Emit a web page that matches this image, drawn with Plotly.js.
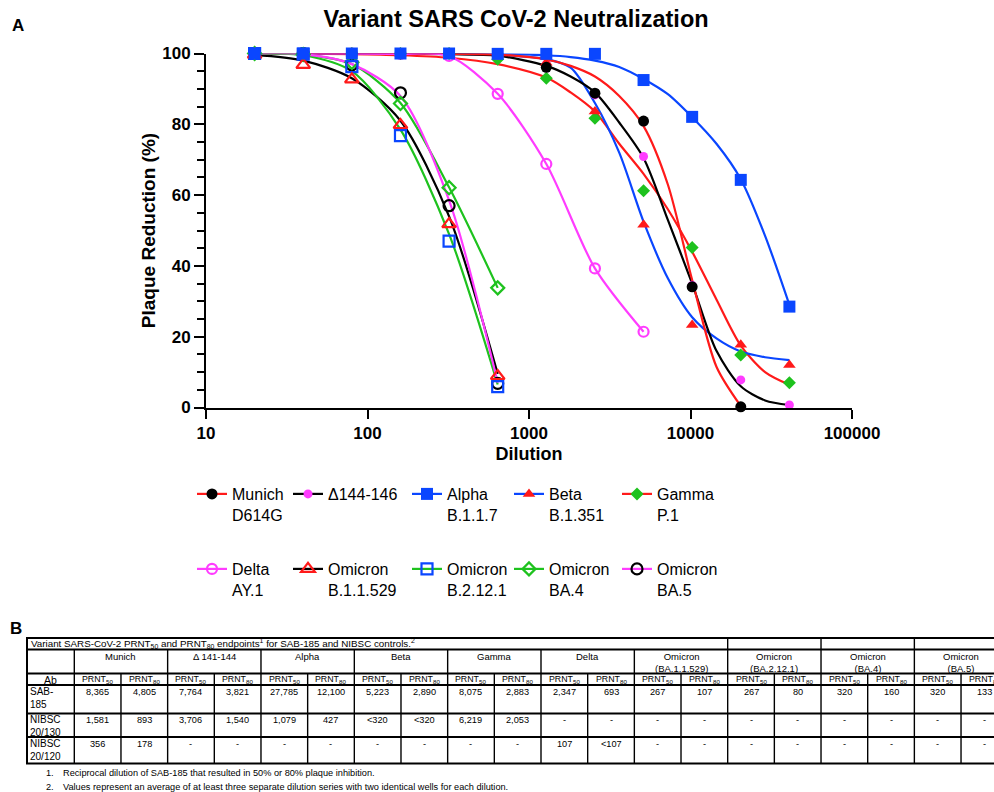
<!DOCTYPE html>
<html>
<head>
<meta charset="utf-8">
<script src="https://cdn.plot.ly/plotly-3.0.1.min.js"></script>
<style>html,body{margin:0;padding:0;background:#fff;}#chart{width:994px;height:792px;}</style>
</head>
<body>
<div id="chart"></div>
<script>
// ---------------- DATA ----------------
const dilutions = [20, 40, 80, 160, 320, 640, 1280, 2560, 5120, 10240, 20480, 40960];
const munichDilutions = [20, 40, 80, 160, 320, 640, 1280, 2560, 5120, 10240, 20480];
const deltaDilutions = [20, 40, 80, 160, 320, 640, 1280, 2560, 5120];
const omicronDilutions = [20, 40, 80, 160, 320, 640];
const fitDilutions = [20, 40, 80, 160, 320, 640, 1280, 1810, 2560, 3620, 5120, 7240, 10240, 14480, 20480, 28960, 40960];
const munichFitDilutions = [20, 40, 80, 160, 320, 640, 1280, 1810, 2560, 3620, 5120, 7240, 10240, 14480, 20480];

// measured points (% plaque reduction)
const munich   = [100, 100, 100, 100, 100, 99.9, 96.1, 88.8, 80.9, 34.1, 0.2];
const del144   = [100, 100, 100, 100, 99.8, 99.5, 97.0, 88.3, 70.9, 34.5, 7.8, 0.7];
const alpha    = [100, 100, 100, 100, 100, 99.9, 99.9, 99.9, 92.5, 82.1, 64.3, 28.5];
const beta     = [100, 100, 100, 100, 100, 99.8, 97.4, 83.6, 51.6, 23.3, 17.7, 12.0];
const gamma    = [100, 100, 100, 100, 100, 98.4, 93.0, 81.7, 61.2, 45.2, 14.8, 7.0];
const delta    = [100, 100, 100, 99.9, 99.3, 88.6, 68.8, 39.3, 21.4];
const omiB11529 = [99.7, 96.8, 92.7, 79.8, 51.8, 8.9];
const omiB2121  = [100, 99.8, 96.3, 76.8, 47.0, 5.9];
const omiBA4    = [100, 99.7, 97.5, 85.9, 62.1, 33.8];
const omiBA5    = [100, 100, 96.8, 88.9, 57.0, 6.8];

// fitted curves
const munichFit = [100, 100, 100, 100, 99.9, 99.7, 98.3, 96.5, 93.5, 88, 79.5, 63, 36, 11.5, 0.4];
const del144Fit = [100, 100, 100, 99.9, 99.8, 99.4, 96.5, 93.5, 89, 80.5, 70.5, 53, 35, 16, 6, 2, 0.7];
const alphaFit  = [100, 100, 100, 100, 100, 99.9, 99.5, 99, 98, 96.2, 92.8, 88.5, 82, 74.5, 64.5, 48.5, 29];
const betaFit   = [100, 100, 100, 100, 99.9, 99.6, 98.4, 96, 86, 72, 52.5, 36.5, 25.5, 19.5, 15.8, 14.2, 13.4];
const gammaFit  = [100, 99.9, 99.8, 99.5, 98.8, 97, 93.2, 89, 83.6, 74.5, 66, 56, 44, 30.5, 17.5, 10, 6.4];
const deltaLine = [100, 100, 100, 99.9, 99.3, 88.6, 68.8, 39.3, 21.4];
const omiB11529Line = [99.6, 98, 93, 81, 54, 9.5];
const omiB2121Line  = [100, 99.5, 95, 78.5, 49, 6.5];
const omiBA4Line    = [100, 99.7, 97, 86, 62.2, 33.8];
const omiBA5Line    = [100, 99.8, 97, 88, 58.5, 7];

const legendNames = ['Munich<br>D614G', 'Δ144-146', 'Alpha<br>B.1.1.7', 'Beta<br>B.1.351', 'Gamma<br>P.1',
  'Delta<br>AY.1', 'Omicron<br>B.1.1.529', 'Omicron<br>B.2.12.1', 'Omicron<br>BA.4', 'Omicron<br>BA.5'];
const xTickVals = [10, 100, 1000, 10000, 100000];
const xTickText = ['10', '100', '1000', '10000', '100000'];

// table
const tableTitle = 'Variant SARS-CoV-2 PRNT<sub>50</sub> and PRNT<sub>80</sub> endpoints<sup>1</sup> for SAB-185 and NIBSC controls.<sup>2</sup>';
const tableVariants = ['Munich', 'Δ 141-144', 'Alpha', 'Beta', 'Gamma', 'Delta',
  'Omicron<br>(BA.1.1.529)', 'Omicron<br>(BA.2.12.1)', 'Omicron<br>(BA.4)', 'Omicron<br>(BA.5)'];
const tableSubHeaders = ['PRNT<sub>50</sub>', 'PRNT<sub>80</sub>'];
const tableRowLabels = ['SAB-<br>185', 'NIBSC<br>20/130', 'NIBSC<br>20/120'];
const rowSAB185 = ['8,365', '4,805', '7,764', '3,821', '27,785', '12,100', '5,223', '2,890', '8,075', '2,883',
  '2,347', '693', '267', '107', '267', '80', '320', '160', '320', '133'];
const rowNIBSC130 = ['1,581', '893', '3,706', '1,540', '1,079', '427', '&lt;320', '&lt;320', '6,219', '2,053',
  '-', '-', '-', '-', '-', '-', '-', '-', '-', '-'];
const rowNIBSC120 = ['356', '178', '-', '-', '-', '-', '-', '-', '-', '-',
  '107', '&lt;107', '-', '-', '-', '-', '-', '-', '-', '-'];
const footnotes = ['Reciprocal dilution of SAB-185 that resulted in 50% or 80% plaque inhibition.',
  'Values represent an average of at least three separate dilution series with two identical wells for each dilution.'];

// ---------------- STYLE ----------------
const W = 994, H = 792;
const fx = x => x / W;
const fy = y => 1 - y / H;
const FONT = 'Liberation Sans, Arial, sans-serif';
const C = {red: '#ff1a1a', blue: '#0a46ff', green: '#1ec21e', magenta: '#ff3cff', black: '#000000'};

const traces = [];
function line(x, y, color, shape) {
  traces.push({x: x, y: y, mode: 'lines', type: 'scatter', showlegend: false, hoverinfo: 'skip',
    cliponaxis: false, line: {color: color, width: 2.2, shape: shape || 'spline', smoothing: 0.8}});
}
function pts(x, y, marker) {
  traces.push({x: x, y: y, mode: 'markers', type: 'scatter', showlegend: false, cliponaxis: false, marker: marker});
}

// curves / connecting lines
line(fitDilutions, gammaFit, C.red);
line(fitDilutions, betaFit, C.blue);
line(fitDilutions, alphaFit, C.blue);
line(fitDilutions, del144Fit, C.black);
line(munichFitDilutions, munichFit, C.red);
line(deltaDilutions, deltaLine, C.magenta);
line(omicronDilutions, omiB11529Line, C.black);
line(omicronDilutions, omiB2121Line, C.green);
line(omicronDilutions, omiBA4Line, C.green);
line(omicronDilutions, omiBA5Line, C.magenta);

const mk = {
  munich: {symbol: 'circle', size: 11, color: C.black},
  del144: {symbol: 'circle', size: 9, color: C.magenta},
  alpha: {symbol: 'square', size: 12, color: C.blue},
  beta: {symbol: 'triangle-up', size: 11, color: C.red},
  gamma: {symbol: 'diamond', size: 10, color: C.green},
  delta: {symbol: 'circle-open', size: 10, color: C.magenta, line: {width: 2.2}},
  b11529: {symbol: 'triangle-up-open', size: 12, color: C.red, line: {width: 2.2}},
  b2121: {symbol: 'square-open', size: 11, color: C.blue, line: {width: 2.2}},
  ba4: {symbol: 'diamond-open', size: 10, color: C.green, line: {width: 2.2}},
  ba5: {symbol: 'circle-open', size: 11, color: C.black, line: {width: 2.2}}
};

// markers
pts(deltaDilutions, delta, mk.delta);
pts(omicronDilutions, omiBA5, mk.ba5);
pts(omicronDilutions, omiBA4, mk.ba4);
pts(omicronDilutions, omiB2121, mk.b2121);
pts(omicronDilutions, omiB11529, mk.b11529);
pts(dilutions, gamma, mk.gamma);
pts(dilutions, del144, mk.del144);
pts(dilutions, beta, mk.beta);
pts(munichDilutions, munich, mk.munich);
pts(dilutions, alpha, mk.alpha);

// legend entries (one legend per entry to reproduce the 2 x 5 grid)
const legendStyle = [
  [C.red, mk.munich], [C.black, mk.del144], [C.blue, mk.alpha], [C.blue, mk.beta], [C.red, mk.gamma],
  [C.magenta, mk.delta], [C.black, mk.b11529], [C.green, mk.b2121], [C.green, mk.ba4], [C.magenta, mk.ba5]
];
const legColX = [192, 288, 407, 509, 617];
const legRowY = [477, 552];
legendNames.forEach((nm, i) => {
  const id = i === 0 ? 'legend' : 'legend' + (i + 1);
  traces.push({x: [null], y: [null], mode: 'lines+markers', type: 'scatter', name: nm, legend: id,
    line: {color: legendStyle[i][0], width: 2.2}, marker: legendStyle[i][1], hoverinfo: 'skip'});
});

const layout = {
  width: W, height: H,
  margin: {l: 0, r: 0, t: 0, b: 0},
  paper_bgcolor: '#fff', plot_bgcolor: '#fff',
  font: {family: FONT, color: '#000'},
  title: {text: 'Variant SARS CoV-2 Neutralization', font: {family: FONT, size: 23.5, weight: 'bold', color: '#000'},
    x: fx(516), xanchor: 'center', xref: 'paper', y: fy(19), yanchor: 'middle', yref: 'paper'},
  xaxis: {
    type: 'log', range: [1, 5], domain: [fx(206), fx(852)],
    tickvals: xTickVals, ticktext: xTickText,
    ticks: 'outside', ticklen: 9, tickwidth: 2, tickcolor: '#000',
    showline: true, linewidth: 2, linecolor: '#000', showgrid: false, zeroline: false,
    tickfont: {family: FONT, size: 17, weight: 'bold'},
    title: {text: 'Dilution', font: {family: FONT, size: 18, weight: 'bold'}, standoff: 5},
    automargin: false
  },
  yaxis: {
    range: [0, 100], domain: [fy(407.5), fy(53.5)],
    tickvals: [0, 20, 40, 60, 80, 100],
    ticks: 'outside', ticklen: 10, tickwidth: 2, tickcolor: '#000',
    minor: {dtick: 5, ticks: 'outside', ticklen: 7, tickwidth: 2, tickcolor: '#000', showgrid: false},
    showline: true, linewidth: 2, linecolor: '#000', showgrid: false, zeroline: false,
    tickfont: {family: FONT, size: 17, weight: 'bold'},
    title: {text: 'Plaque Reduction (%)', font: {family: FONT, size: 19, weight: 'bold'}, standoff: 2},
    automargin: false
  },
  showlegend: true,
  shapes: [],
  annotations: []
};

for (let i = 0; i < 10; i++) {
  const id = i === 0 ? 'legend' : 'legend' + (i + 1);
  layout[id] = {
    x: fx(legColX[i % 5]), y: fy(legRowY[Math.floor(i / 5)]), xanchor: 'left', yanchor: 'top',
    xref: 'paper', yref: 'paper', orientation: 'v', valign: 'top', bgcolor: 'rgba(0,0,0,0)',
    borderwidth: 0, font: {family: FONT, size: 16, color: '#000'}, itemclick: false, itemdoubleclick: false
  };
}

// panel letters
layout.annotations.push({text: '<b>A</b>', x: fx(18), y: fy(25), xref: 'paper', yref: 'paper', showarrow: false,
  font: {family: FONT, size: 17}, xanchor: 'center', yanchor: 'middle'});
layout.annotations.push({text: '<b>B</b>', x: fx(16), y: fy(628), xref: 'paper', yref: 'paper', showarrow: false,
  font: {family: FONT, size: 17}, xanchor: 'center', yanchor: 'middle'});

// ---------------- TABLE (shapes + annotations) ----------------
const tLeft = 27, labW = 47.3, subW = 46.67;
const rowY = [638, 649.5, 673.5, 685, 713.5, 737, 763.5];
const nSub = tableVariants.length * 2;
const tRight = tLeft + labW + nSub * subW;
const colX = k => tLeft + labW + k * subW;
function hline(y, w) {
  layout.shapes.push({type: 'line', xref: 'paper', yref: 'paper', x0: fx(tLeft - 1), x1: fx(tRight), y0: fy(y), y1: fy(y),
    line: {color: '#000', width: w}});
}
function vline(x, y0, y1, w) {
  layout.shapes.push({type: 'line', xref: 'paper', yref: 'paper', x0: fx(x), x1: fx(x), y0: fy(y0), y1: fy(y1),
    line: {color: '#000', width: w}});
}
rowY.forEach(y => hline(y, 2));
vline(tLeft, rowY[0], rowY[6], 2);
vline(tLeft + labW, rowY[1], rowY[6], 1.4);
for (let k = 1; k <= nSub; k++) {
  const top = (k % 2 === 1) ? rowY[2] : (k >= 14 ? rowY[0] : rowY[1]);
  vline(colX(k), top, rowY[6], 1.4);
}
function ann(text, x, y, size, xanchor, yanchor) {
  layout.annotations.push({text: text, x: fx(x), y: fy(y), xref: 'paper', yref: 'paper', showarrow: false,
    font: {family: FONT, size: size, color: '#000'}, xanchor: xanchor || 'center', yanchor: yanchor || 'middle',
    borderpad: 0, align: xanchor === 'left' ? 'left' : 'center'});
}
ann(tableTitle, tLeft + 3, 643.8, 9.8, 'left', 'middle');
tableVariants.forEach((v, i) => ann(v, colX(2 * i + 1), 650, 9.5, 'center', 'top'));
ann('Ab', tLeft + labW / 2, 679.5, 10.5, 'center', 'middle');
for (let k = 0; k < nSub; k++) ann(tableSubHeaders[k % 2], colX(k) + subW / 2, 679.5, 8.8, 'center', 'middle');
const rows = [rowSAB185, rowNIBSC130, rowNIBSC120];
rows.forEach((r, ri) => {
  const top = rowY[3 + ri];
  ann(tableRowLabels[ri], tLeft + 2, top - 0.5, 10, 'left', 'top');
  r.forEach((v, k) => ann(v, colX(k) + subW / 2, top + 0.5, 9.2, 'center', 'top'));
});
footnotes.forEach((t, i) => {
  ann((i + 1) + '.', 45, 773 + i * 14, 9.2, 'left', 'middle');
  ann(t, 62, 773 + i * 14, 9.2, 'left', 'middle');
});

Plotly.newPlot('chart', traces, layout, {staticPlot: true, displayModeBar: false});
</script>
</body>
</html>
